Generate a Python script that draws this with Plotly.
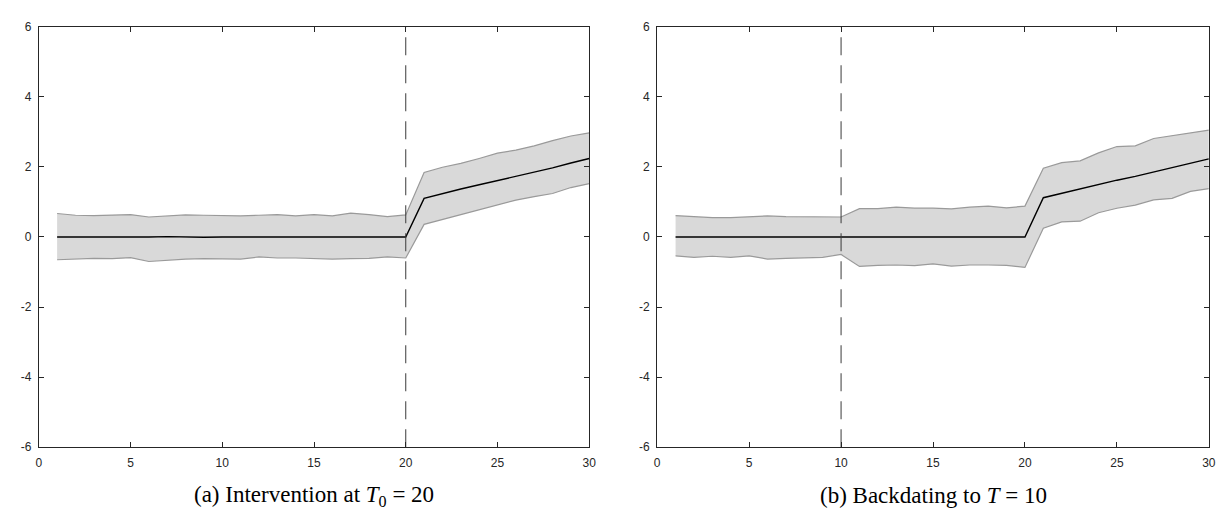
import plotly.graph_objects as go

t = list(range(1, 31))

mean_a = [0.00, 0.01, 0.00, 0.00, -0.01, 0.00, 0.01, -0.01, -0.01, 0.00,
          -0.01, 0.00, 0.00, 0.01, 0.00, 0.00, 0.00, 0.01, 0.00, 0.00,
          1.10, 1.24, 1.37, 1.49, 1.61, 1.72, 1.84, 1.97, 2.11, 2.24]
upper_a = [0.67, 0.62, 0.61, 0.62, 0.64, 0.57, 0.60, 0.63, 0.62, 0.61,
           0.60, 0.62, 0.64, 0.60, 0.64, 0.60, 0.68, 0.64, 0.58, 0.63,
           1.84, 1.99, 2.10, 2.24, 2.39, 2.48, 2.60, 2.75, 2.88, 2.97]
lower_a = [-0.65, -0.63, -0.61, -0.62, -0.59, -0.70, -0.66, -0.63, -0.62, -0.62,
           -0.63, -0.57, -0.60, -0.60, -0.62, -0.63, -0.62, -0.61, -0.57, -0.60,
           0.36, 0.50, 0.62, 0.78, 0.92, 1.05, 1.15, 1.24, 1.41, 1.52]

mean_b = [0.00, 0.00, -0.01, 0.00, 0.00, 0.01, 0.00, 0.00, -0.01, 0.00,
          -0.01, 0.00, 0.01, 0.01, 0.00, -0.01, 0.00, 0.01, 0.00, 0.00,
          1.12, 1.25, 1.38, 1.50, 1.62, 1.73, 1.86, 1.98, 2.12, 2.23]
upper_b = [0.61, 0.58, 0.55, 0.55, 0.58, 0.60, 0.58, 0.57, 0.58, 0.57,
           0.81, 0.81, 0.85, 0.82, 0.82, 0.80, 0.85, 0.88, 0.83, 0.88,
           1.96, 2.12, 2.17, 2.40, 2.58, 2.60, 2.81, 2.89, 2.95, 3.05]
lower_b = [-0.54, -0.58, -0.55, -0.58, -0.54, -0.63, -0.61, -0.60, -0.58, -0.50,
           -0.84, -0.81, -0.80, -0.82, -0.77, -0.83, -0.80, -0.80, -0.81, -0.87,
           0.25, 0.43, 0.45, 0.69, 0.82, 0.91, 1.06, 1.10, 1.30, 1.38]

intervention_a = 20
intervention_b = 10
captions = ["(a) Intervention at <i>T</i><sub>0</sub> = 20",
            "(b) Backdating to <i>T</i> = 10"]

x_ticks = [0, 5, 10, 15, 20, 25, 30]
y_ticks = [-6, -4, -2, 0, 2, 4, 6]
y_ticktext = ["-6", "-4", "-2", "0", "2", "4", "6"]

fig = go.Figure()

panels = [
    ("x", "y", mean_a, upper_a, lower_a, intervention_a),
    ("x2", "y2", mean_b, upper_b, lower_b, intervention_b),
]

band_fill = "#d9d9d9"
band_edge = "#9a9a9a"

for xa, ya, m, up, lo, iv in panels:
    fig.add_trace(go.Scatter(x=t, y=lo, xaxis=xa, yaxis=ya, mode="lines",
                             line=dict(color=band_edge, width=1.2),
                             showlegend=False, hoverinfo="skip"))
    fig.add_trace(go.Scatter(x=t, y=up, xaxis=xa, yaxis=ya, mode="lines",
                             line=dict(color=band_edge, width=1.2),
                             fill="tonexty", fillcolor=band_fill,
                             showlegend=False, hoverinfo="skip"))
    fig.add_trace(go.Scatter(x=t, y=m, xaxis=xa, yaxis=ya, mode="lines",
                             line=dict(color="black", width=1.4),
                             showlegend=False))
    fig.add_trace(go.Scatter(x=[iv, iv], y=[-6, 6], xaxis=xa, yaxis=ya, mode="lines",
                             line=dict(color="#3a3a3a", width=1, dash="18px,10px"),
                             showlegend=False, hoverinfo="skip"))

W, H = 1225, 529
dom_a = [28 / W, 583 / W]
dom_b = [651.5 / W, 1207.7 / W]
dom_y = [1 - 444 / H, 1 - 12 / H]

axis_common = dict(
    showgrid=False, zeroline=False, showline=True, linecolor="#262626",
    linewidth=1, mirror="ticks", ticks="inside", ticklen=5, tickcolor="#262626",
    tickfont=dict(family="Liberation Sans, Arial, sans-serif", size=12, color="#262626"),
    ticklabelstandoff=4,
)

fig.update_layout(
    width=W, height=H,
    margin=dict(l=0, r=0, t=0, b=0),
    paper_bgcolor="white", plot_bgcolor="white",
    xaxis=dict(domain=dom_a, range=[0, 30], tickvals=x_ticks, anchor="y", **axis_common),
    yaxis=dict(domain=dom_y, range=[-6, 6], tickvals=y_ticks, ticktext=y_ticktext,
               anchor="x", **axis_common),
    xaxis2=dict(domain=dom_b, range=[0, 30], tickvals=x_ticks, anchor="y2", **axis_common),
    yaxis2=dict(domain=dom_y, range=[-6, 6], tickvals=y_ticks, ticktext=y_ticktext,
                anchor="x2", **axis_common),
)

for cap, dom in zip(captions, [dom_a, dom_b]):
    fig.add_annotation(text=cap, xref="paper", yref="paper",
                       x=(dom[0] + dom[1]) / 2, y=1 - 494 / H,
                       xanchor="center", yanchor="middle", showarrow=False,
                       font=dict(family="Liberation Serif, DejaVu Serif, serif",
                                 size=23, color="black"))

fig.write_html("out.html")
